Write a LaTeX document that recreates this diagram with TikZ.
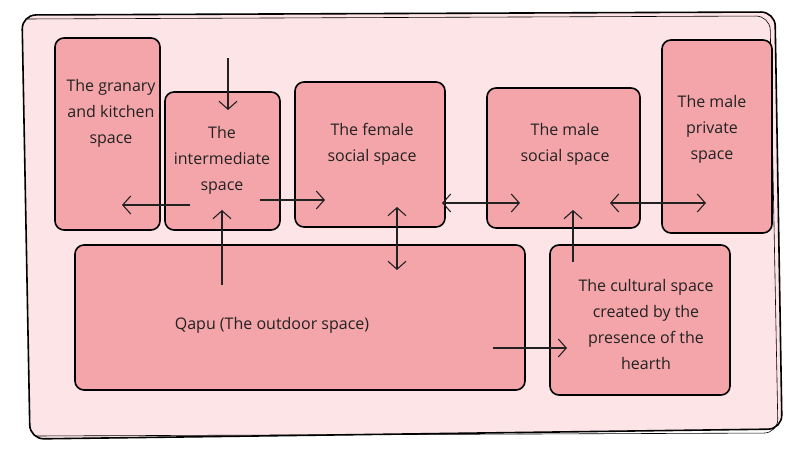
\documentclass[tikz,border=0pt]{standalone}
\usepackage{fontspec}
\setmainfont{Open Sans}
\usetikzlibrary{arrows.meta}
\definecolor{roomfill}{HTML}{F4A5AA}
\definecolor{housefill}{HTML}{FCE4E7}
\definecolor{inkgray}{HTML}{222222}
\begin{document}
\begin{tikzpicture}[x=1pt,y=1pt]
        \useasboundingbox[fill=white] (0,0) rectangle (787,449);
        \draw[line width=1.6pt,fill=housefill,rounded corners=14pt] (22,434) -- (775,437) -- (782,20) -- (30,10) -- cycle;
        \draw[line width=0.6pt,rounded corners=14pt] (26,430) -- (770,433) -- (778,16) -- (35,13);

        \begin{scope}[every node/.style={draw,line width=1.6pt,fill=roomfill,rectangle,rounded corners=9pt,inner sep=0pt}]
          \node[minimum width=105pt,minimum height=192pt] at (107.5,315) (granary){};
          \node[minimum width=115pt,minimum height=138pt] at (222.5,288) (inter){};
          \node[minimum width=150pt,minimum height=145pt] at (370,294.5) (female){};
          \node[minimum width=153pt,minimum height=140pt] at (563.5,291) (malesoc){};
          \node[minimum width=110pt,minimum height=193pt] at (717,312.5) (malepriv){};
          \node[minimum width=450pt,minimum height=145pt] at (300,131.5) (qapu){};
          \node[minimum width=180pt,minimum height=150pt] at (640,129) (hearth){};
        \end{scope}

        \begin{scope}[every node/.style={inkgray,align=center,inner sep=0pt,font=\fontsize{16}{26}\selectfont}]
          \node at (111,336) (granaryT){The granary\\and kitchen\\space};
          \node at (222,289) (interT){The\\intermediate\\space};
          \node at (372,305) (femaleT){The female\\social space};
          \node at (565,305) (malesocT){The male\\social space};
          \node at (712,320) (maleprivT){The male\\private\\space};
          \node at (272,124) (qapuT){Qapu (The outdoor space)};
          \node at (646,124) (hearthT){The cultural space\\created by the\\presence of the\\hearth};
        \end{scope}

        \begin{scope}[every coordinate/.style={}]
          \coordinate (roof) at (228,391);
          \coordinate (interTop) at (228,339);
          \coordinate (interL) at (190,244);
          \coordinate (granaryIn) at (122,244);
          \coordinate (interR) at (260,249);
          \coordinate (femaleL) at (325,249);
          \coordinate (qapuUp) at (222,164);
          \coordinate (interBot) at (222,239);
          \coordinate (femaleBot) at (397,242);
          \coordinate (qapuTop) at (397,179);
          \coordinate (femaleR) at (442,246);
          \coordinate (malesocL) at (520,246);
          \coordinate (malesocR) at (610,246);
          \coordinate (maleprivIn) at (706,246);
          \coordinate (hearthUp) at (573,187);
          \coordinate (malesocBot) at (573,239);
          \coordinate (qapuR) at (493,101);
          \coordinate (hearthL) at (567,101);
        \end{scope}

        \begin{scope}[inkgray,line width=1.1pt,>={Straight Barb[length=8pt,width=18pt]}]
          \path (roof) edge[->] (interTop);
          \path (interL) edge[->] (granaryIn);
          \path (interR) edge[->] (femaleL);
          \path (qapuUp) edge[->] (interBot);
          \path (femaleBot) edge[<->] (qapuTop);
          \path (femaleR) edge[<->] (malesocL);
          \path (malesocR) edge[<->] (maleprivIn);
          \path (hearthUp) edge[->] (malesocBot);
          \path (qapuR) edge[->] (hearthL);
        \end{scope}
      \end{tikzpicture}
\end{document}
